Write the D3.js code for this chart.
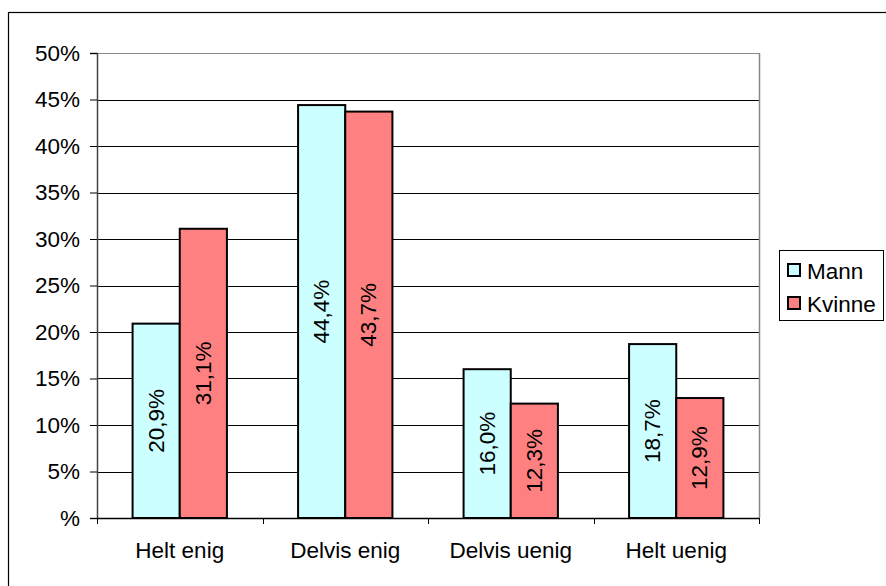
<!DOCTYPE html>
<html><head><meta charset="utf-8">
<script src="https://cdn.jsdelivr.net/npm/d3@7"></script>
<style>body{margin:0;background:#fff}svg{display:block;font-family:"Liberation Sans",Arial,sans-serif}</style>
</head><body><svg id="c" width="886" height="586"></svg>
<script>
const categories = ["Helt enig","Delvis enig","Delvis uenig","Helt uenig"];
const seriesNames = ["Mann","Kvinne"];
const mann = [20.9,44.4,16.0,18.7];
const kvinne = [31.1,43.7,12.3,12.9];
const yTicks = [0,5,10,15,20,25,30,35,40,45,50];
const colors = ["#CCFFFF","#FF8080"];

const FS = 22.5;
const svg = d3.select("#c");
const pLeft=97,pRight=759,pTop=53,pBottom=518;
svg.append("rect").attr("x",8.5).attr("y",12.5).attr("width",890).attr("height",590).attr("fill","none").attr("stroke","#000").attr("stroke-width",1.2);

const x = d3.scaleBand().domain(categories).range([pLeft,pRight]).paddingInner(0.43).paddingOuter(0.215);
const xs = d3.scaleBand().domain(seriesNames).range([0,x.bandwidth()]);
const y = d3.scaleLinear().domain([0,50]).range([pBottom,pTop]);

// gridlines
svg.append("g").selectAll("line").data(yTicks.filter(d=>d>0)).join("line")
 .attr("x1",pLeft).attr("x2",pRight).attr("y1",d=>Math.round(y(d))+0.5).attr("y2",d=>Math.round(y(d))+0.5)
 .attr("stroke",d=>d===50?"#888":"#000").attr("stroke-width",1);
svg.append("line").attr("x1",pRight+0.5).attr("x2",pRight+0.5).attr("y1",pTop).attr("y2",pBottom).attr("stroke","#888").attr("stroke-width",1.5);

// y axis
const ya = svg.append("g").attr("transform",`translate(${pLeft},0)`)
 .call(d3.axisLeft(y).tickValues(yTicks).tickSize(7).tickPadding(10).tickFormat(d=>d===0?"%":d+"%"));
ya.select(".domain").attr("stroke","#444").attr("stroke-width",1.5);
ya.selectAll(".tick line").attr("stroke","#000");
ya.selectAll("text").attr("font-size",FS).attr("font-family","Liberation Sans, Arial, sans-serif").attr("fill","#000");

// x axis
const xa = svg.append("g").attr("transform",`translate(0,${pBottom})`)
 .call(d3.axisBottom(x).tickSize(0).tickPadding(24));
xa.select(".domain").remove();
xa.selectAll("text").attr("font-size",FS).attr("font-family","Liberation Sans, Arial, sans-serif").attr("fill","#000");
const bounds = [0,1,2,3,4].map(i=>pLeft+(pRight-pLeft)*i/4);
svg.append("line").attr("x1",pLeft).attr("x2",pRight).attr("y1",pBottom+0.5).attr("y2",pBottom+0.5).attr("stroke","#000").attr("stroke-width",1.5);
svg.append("g").selectAll("line").data(bounds).join("line")
 .attr("x1",d=>Math.round(d)+0.5).attr("x2",d=>Math.round(d)+0.5).attr("y1",pBottom).attr("y2",pBottom+6).attr("stroke","#000");

const data = categories.map((c,i)=>[{c,s:"Mann",v:mann[i]},{c,s:"Kvinne",v:kvinne[i]}]).flat();
const bars = svg.append("g").selectAll("g").data(data).join("g");
bars.append("rect")
 .attr("x",d=>x(d.c)+xs(d.s)).attr("width",xs.bandwidth())
 .attr("y",d=>y(d.v)).attr("height",d=>y(0)-y(d.v))
 .attr("fill",d=>colors[seriesNames.indexOf(d.s)]).attr("stroke","#000").attr("stroke-width",2);
bars.append("text")
 .attr("transform",d=>`translate(${x(d.c)+xs(d.s)+xs.bandwidth()/2},${(y(d.v)+y(0))/2}) rotate(-90)`)
 .attr("text-anchor","middle").attr("dominant-baseline","central")
 .attr("font-size",FS).attr("fill","#000")
 .text(d=>d.v.toFixed(1).replace(".",",")+"%");

// legend
const lg = svg.append("g");
lg.append("rect").attr("x",779.5).attr("y",250.5).attr("width",104).attr("height",70).attr("fill","#fff").attr("stroke","#000").attr("stroke-width",1);
seriesNames.forEach((s,i)=>{
  const cy = 270+i*33;
  lg.append("rect").attr("x",788).attr("y",cy-6).attr("width",12).attr("height",12).attr("fill",colors[i]).attr("stroke","#000").attr("stroke-width",2);
  lg.append("text").attr("x",807).attr("y",cy+1).attr("dominant-baseline","central").attr("font-size",FS).text(s);
});
</script></body></html>
